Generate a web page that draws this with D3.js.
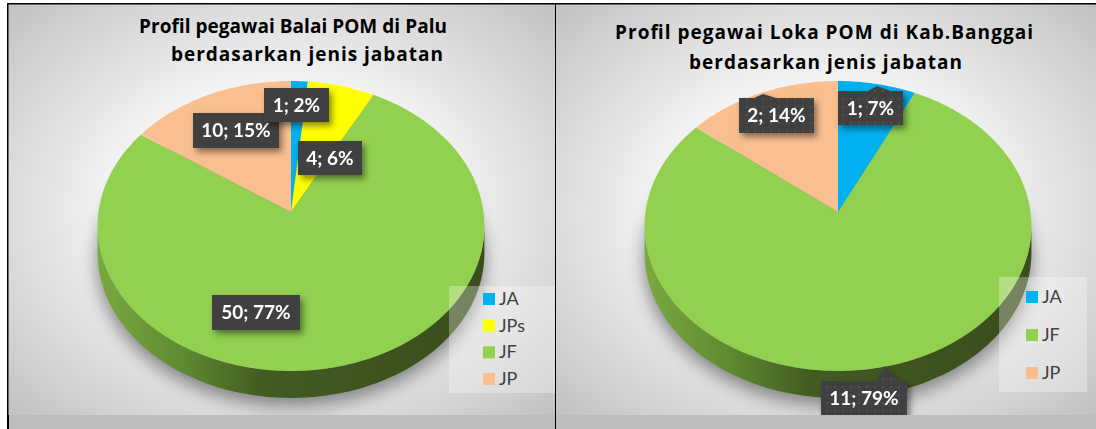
<!DOCTYPE html>
<html>
<head>
<meta charset="utf-8">
<script src="https://cdn.jsdelivr.net/npm/d3@7"></script>
<style>
	html, body { margin: 0; padding: 0; background: #fff; overflow: hidden; }
	svg { display: block; }
</style>
</head>
<body>
<svg id="chart" width="1096" height="429"></svg>
<script>
// values
var categoriesPalu = ["JA", "JPs", "JF", "JP"];
var valuesPalu = [1, 4, 50, 10];
var categoriesBanggai = ["JA", "JF", "JP"];
var valuesBanggai = [1, 11, 2];
var titlePalu = ["Profil pegawai Balai POM di Palu", "berdasarkan jenis jabatan"];
var titleBanggai = ["Profil pegawai Loka POM di Kab.Banggai", "berdasarkan jenis jabatan"];

var color = d3.scaleOrdinal()
	.domain(["JA", "JPs", "JF", "JP"])
	.range(["#00b0f0", "#ffff00", "#92d050", "#f9bf90"]);

var svg = d3.select("#chart");
var defs = svg.append("defs");

var bg = defs.append("radialGradient").attr("id", "panelBg")
	.attr("cx", 0.5).attr("cy", 0.5).attr("r", 0.72);
bg.append("stop").attr("offset", 0.3).attr("stop-color", "#ffffff");
bg.append("stop").attr("offset", 0.6).attr("stop-color", "#e4e4e4");
bg.append("stop").attr("offset", 1).attr("stop-color", "#c0c0c0");

var side = defs.append("linearGradient").attr("id", "sideFill");
side.append("stop").attr("offset", 0).attr("stop-color", "#78aa40");
side.append("stop").attr("offset", 0.22).attr("stop-color", "#5f8a30");
side.append("stop").attr("offset", 0.42).attr("stop-color", "#425c22");
side.append("stop").attr("offset", 1).attr("stop-color", "#3a4d1c");

var blur = defs.append("filter").attr("id", "pieShadow")
	.attr("x", "-20%").attr("y", "-20%").attr("width", "140%").attr("height", "140%");
blur.append("feGaussianBlur").attr("stdDeviation", 9);

var boxShadow = defs.append("filter").attr("id", "boxShadow")
	.attr("x", "-20%").attr("y", "-20%").attr("width", "150%").attr("height", "160%");
boxShadow.append("feDropShadow").attr("dx", 3).attr("dy", 4).attr("stdDeviation", 3)
	.attr("flood-color", "#000").attr("flood-opacity", 0.45);

var dots = defs.append("pattern").attr("id", "dots")
	.attr("width", 8).attr("height", 8).attr("patternUnits", "userSpaceOnUse");
dots.append("rect").attr("width", 8).attr("height", 8).attr("fill", "#404040");
dots.append("circle").attr("cx", 3).attr("cy", 3).attr("r", 1).attr("fill", "#565656");

// perspective of the pie: unit circle to screen, the wedge tip sits above the middle of the ellipse
var tilt = 0.0966, radiusX = 192.5, radiusY = 143.6, depth = 27;

function project(cx, cy, a) {
	var u = Math.sin(a), v = -Math.cos(a), w = 1 - tilt * v;
	return [cx + radiusX * u / w, cy + radiusY * v / w];
}

var line = d3.line();

function drawChart(cfg) {
	var g = svg.append("g");

	g.append("rect")
		.attr("x", cfg.x).attr("y", 4)
		.attr("width", cfg.w).attr("height", 411)
		.attr("fill", "url(#panelBg)");

	var degs = d3.range(0, 361, 2);
	var rim = degs.map(function(d) {
		return project(cfg.cx, cfg.cy, d * Math.PI / 180);
	});
	var left = degs[d3.leastIndex(rim, function(a, b) { return a[0] - b[0]; })];
	var right = degs[d3.greatestIndex(rim, function(a) { return a[0]; })];
	var lower = d3.range(right, left + 1, 2).map(function(d) {
		return project(cfg.cx, cfg.cy, d * Math.PI / 180);
	});
	var lowerOut = lower.map(function(p) { return [p[0], p[1] + depth]; }).reverse();

	// soft shadow round the pie
	g.append("path")
		.attr("d", line(rim.map(function(p) { return [p[0], p[1] + depth + 8]; })) + "Z")
		.attr("fill", "#777")
		.attr("opacity", 0.9)
		.attr("filter", "url(#pieShadow)");

	g.append("path")
		.attr("d", line(lower.concat(lowerOut)) + "Z")
		.attr("fill", "url(#sideFill)");

	var pie = d3.pie().sort(null).value(function(d, i) { return cfg.values[i]; });
	var arcs = pie(cfg.categories);

	g.selectAll("path.slice").data(arcs).enter().append("path")
		.attr("class", "slice")
		.attr("fill", function(d) { return color(d.data); })
		.attr("d", function(d) {
			var n = Math.max(2, Math.ceil((d.endAngle - d.startAngle) * 60));
			var pts = d3.range(n + 1).map(function(i) {
				return project(cfg.cx, cfg.cy, d.startAngle + (d.endAngle - d.startAngle) * i / n);
			});
			return line([[cfg.cx, cfg.cy]].concat(pts)) + "Z";
		});

	g.selectAll("text.title").data(cfg.title).enter().append("text")
		.attr("class", "title")
		.attr("x", function(d, i) { return cfg.titleX[i]; })
		.attr("y", function(d, i) { return cfg.titleY[i]; })
		.attr("textLength", function(d, i) { return cfg.titleW[i]; })
		.attr("font-family", "'Open Sans', sans-serif")
		.attr("font-weight", 700)
		.attr("font-size", 19)
		.attr("fill", "#000")
		.text(function(d) { return d; });

	// legend sits on top of the pie with a see-through backing
	g.append("rect")
		.attr("x", cfg.legend.x).attr("y", cfg.legend.y)
		.attr("width", cfg.legend.w).attr("height", cfg.legend.h)
		.attr("fill", "#fff").attr("opacity", 0.3);

	var legendY = d3.scalePoint()
		.domain(cfg.categories)
		.range([cfg.legend.first, cfg.legend.last]);

	var item = g.selectAll("g.item").data(cfg.categories).enter().append("g").attr("class", "item");
	item.append("rect")
		.attr("x", cfg.legend.sx).attr("y", function(d) { return legendY(d) - 6; })
		.attr("width", 12).attr("height", 12)
		.attr("fill", function(d) { return color(d); });
	item.append("text")
		.attr("x", cfg.legend.sx + 16).attr("y", function(d) { return legendY(d) + 6; })
		.attr("font-family", "Lato, sans-serif").attr("font-size", 18)
		.attr("fill", "#404040")
		.text(function(d) { return d; });

	// data labels, placed by hand in the source chart too
	var total = d3.sum(cfg.values);
	var label = g.selectAll("g.label").data(cfg.order).enter().append("g").attr("class", "label")
		.attr("filter", "url(#boxShadow)");

	label.append("path")
		.attr("fill", cfg.boxFill)
		.attr("d", function(i) {
			var b = cfg.boxes[i];
			var p = "M" + b[0] + "," + b[1];
			if (b[4]) {
				p += "L" + (b[4][0] - 9) + "," + b[1] + "L" + b[4][0] + "," + b[4][1] + "L" + (b[4][0] + 13) + "," + b[1];
			}
			return p + "L" + (b[0] + b[2]) + "," + b[1] + "V" + (b[1] + b[3]) + "H" + b[0] + "Z";
		});
	label.append("text")
		.attr("x", function(i) { return cfg.boxes[i][0] + cfg.boxes[i][2] / 2; })
		.attr("y", function(i) { return cfg.boxes[i][1] + 24; })
		.attr("text-anchor", "middle")
		.attr("font-family", "Lato, sans-serif").attr("font-weight", 700).attr("font-size", 19)
		.attr("fill", "#fff")
		.text(function(i) {
			return cfg.values[i] + "; " + Math.round(cfg.values[i] / total * 100) + "%";
		});
}

drawChart({
	x: 8, w: 547, cx: 291, cy: 212,
	categories: categoriesPalu, values: valuesPalu,
	title: titlePalu, titleX: [139, 171], titleY: [33, 61], titleW: [308, 272],
	legend: { x: 449, y: 286, w: 106, h: 107, sx: 483, first: 299, last: 379 },
	boxFill: "#404040",
	order: [3, 0, 1, 2],
	boxes: [[264, 88, 65, 34], [298, 141, 64, 34], [212, 295, 88, 35], [193, 113, 86, 35]]
});

drawChart({
	x: 556, w: 540, cx: 838, cy: 212,
	categories: categoriesBanggai, values: valuesBanggai,
	title: titleBanggai, titleX: [615, 689], titleY: [39, 69], titleW: [418, 273],
	legend: { x: 999, y: 277, w: 88, h: 115, sx: 1026, first: 297, last: 373 },
	boxFill: "url(#dots)",
	order: [0, 2, 1],
	boxes: [[838, 91, 65, 34, [877, 86]], [821, 381, 86, 36, [885, 366]], [739, 98, 75, 35, [763, 94]]]
});

// frame lines and the grey strip along the bottom
svg.append("rect").attr("x", 0).attr("y", 415).attr("width", 1096).attr("height", 14).attr("fill", "#bdbdbd");
svg.append("rect").attr("x", 7).attr("y", 3).attr("width", 1089).attr("height", 1.5).attr("fill", "#000");
svg.append("rect").attr("x", 7).attr("y", 3).attr("width", 1.5).attr("height", 412).attr("fill", "#000");
svg.append("rect").attr("x", 7).attr("y", 415).attr("width", 2).attr("height", 14).attr("fill", "#000");
svg.append("rect").attr("x", 555).attr("y", 3).attr("width", 1).attr("height", 426).attr("fill", "#000");
svg.append("rect").attr("x", 0).attr("y", 415).attr("width", 7).attr("height", 14).attr("fill", "#fff");
</script>
</body>
</html>
